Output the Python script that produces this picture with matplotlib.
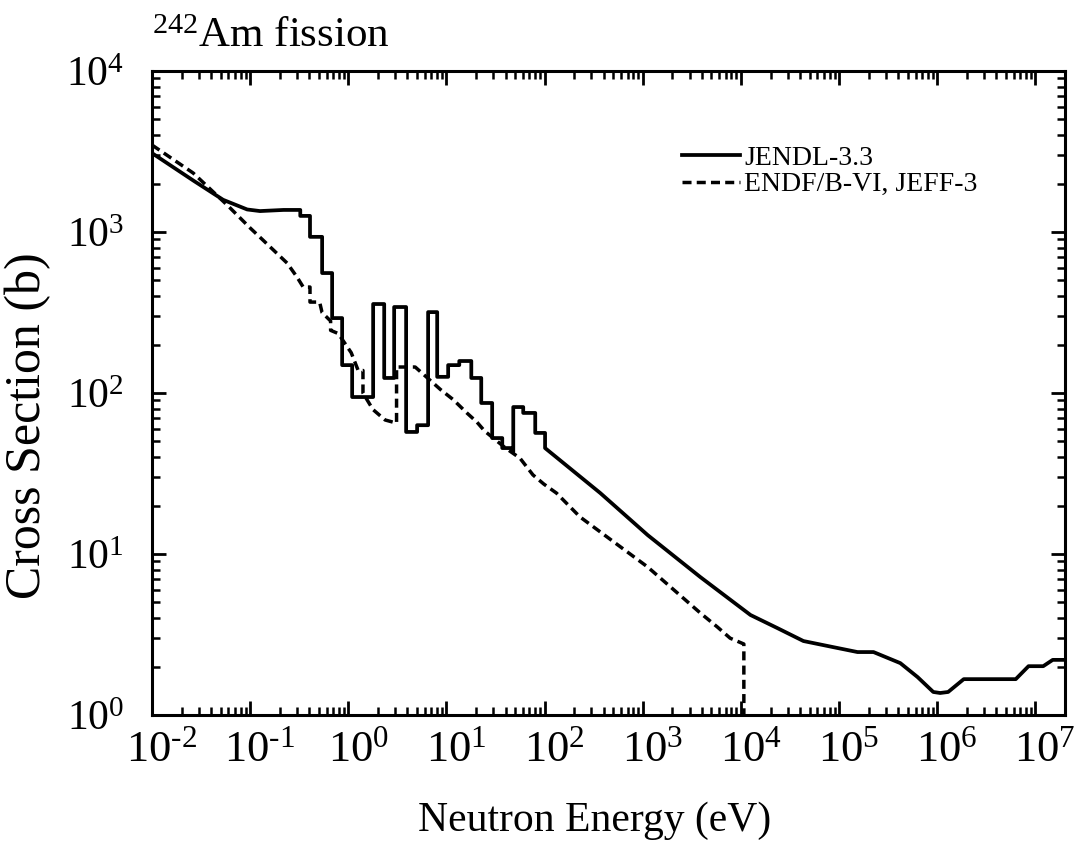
import numpy as np
import matplotlib
matplotlib.use('Agg')
import matplotlib.pyplot as plt
import matplotlib.transforms as mtransforms
from matplotlib.ticker import LogLocator, FuncFormatter, NullFormatter

plt.rcParams['font.family'] = ['Liberation Serif', 'DejaVu Serif']
plt.rcParams['mathtext.fontset'] = 'custom'
plt.rcParams['mathtext.rm'] = 'Liberation Serif'
plt.rcParams['mathtext.it'] = 'Liberation Serif:italic'

# JENDL-3.3: smooth thermal part
jendl_lo_e = [0.01, 0.0263, 0.053, 0.0933, 0.126, 0.219, 0.324]
jendl_lo_xs = [3090, 2089, 1585, 1380, 1349, 1371, 1371]

# JENDL-3.3: resonance region as histogram (edge, level starting at edge)
jendl_step_e = [0.324, 0.407, 0.541, 0.684, 0.865, 1.094, 1.79, 2.32, 2.93, 3.88,
                5.02, 6.50, 8.04, 10.4, 13.5, 17.9, 22.6, 29.2, 37.0, 46.8,
                47.9, 60.5, 80.2, 101]
jendl_step_xs = [1259, 933, 556, 292, 149, 94.4, 357, 124, 342, 57.3,
                 63.1, 318, 126, 149, 158, 124, 86.7, 52.5, 45.5, 43.0,
                 81.8, 75.2, 56.5, 45.5]

# JENDL-3.3: smooth high-energy part
jendl_hi_e = [101, 369, 1122, 3855, 1.25e4, 2.34e4, 4.33e4, 8.7e4, 1.54e5, 2.24e5,
              4.2e5, 6.3e5, 9.1e5, 1.07e6, 1.29e6, 1.86e6, 6.3e6, 8.5e6, 1.2e7,
              1.5e7, 2e7]
jendl_hi_xs = [45.5, 23.9, 13.1, 7.19, 4.18, 3.47, 2.88, 2.64, 2.46, 2.46,
               2.10, 1.72, 1.39, 1.37, 1.39, 1.67, 1.67, 2.01, 2.01,
               2.20, 2.20]

# ENDF/B-VI, JEFF-3
endf_e = [0.01, 0.0263, 0.0582, 0.1, 0.135, 0.238, 0.30, 0.347, 0.407, 0.407,
          0.51, 0.54, 0.66, 0.66, 0.79, 1.07, 1.26, 1.41, 1.41, 1.78,
          2.37, 3.1, 3.1, 4.8, 8.7, 11.7, 16.2, 20.4, 24.5, 40,
          56, 76, 98, 132, 229, 1122, 3855, 5750, 7760, 1.07e4, 1.07e4]
endf_xs = [3470, 2323, 1472, 1059, 891, 641, 525, 455, 455, 367,
           367, 316, 280, 245, 234, 178, 138, 138, 100, 79,
           68, 65, 145, 145, 105, 91, 75, 66, 58, 45.5,
           39.4, 31, 27.2, 23.9, 17, 8.3, 4.3, 3.52, 3.0, 2.76, 0.001]

# build full JENDL curve
step_x = np.repeat(jendl_step_e, 2)
step_y = np.concatenate([[jendl_lo_xs[-1]], np.repeat(jendl_step_xs, 2)[:-1]])
jendl_e = np.concatenate([jendl_lo_e, step_x, jendl_hi_e])
jendl_xs = np.concatenate([jendl_lo_xs, step_y, jendl_hi_xs])

fig = plt.figure(figsize=(10.78, 8.46), dpi=100)
ax = fig.add_axes([152/1078, 1-715/846, (1065-152)/1078, (715-71)/846])

ax.plot(jendl_e, jendl_xs, color='black', lw=2.7, label='JENDL-3.3')
ax.plot(endf_e, endf_xs, color='black', lw=2.5, dashes=(2.6, 1.5),
        label='ENDF/B-VI, JEFF-3')

ax.set_xscale('log')
ax.set_yscale('log')
ax.set_xlim(1e-2, 2e7)
ax.set_ylim(1, 1e4)


def pow_label(v, _):
    p = int(round(np.log10(v)))
    if p < 0:
        return r'$\mathregular{10^{\text{-}%d}}$' % (-p)
    return r'$\mathregular{10^{%d}}$' % p


fmt = FuncFormatter(pow_label)
for axis in (ax.xaxis, ax.yaxis):
    axis.set_major_locator(LogLocator(base=10, numticks=30))
    axis.set_minor_locator(LogLocator(base=10, subs=np.arange(2, 10), numticks=300))
    axis.set_major_formatter(fmt)
    axis.set_minor_formatter(NullFormatter())

ax.tick_params(which='both', direction='in', top=True, right=True)
ax.tick_params(axis='x', labelsize=32)
ax.tick_params(axis='y', labelsize=30)
ax.tick_params(which='major', length=10, width=2.0)
ax.tick_params(which='minor', length=6, width=1.8)
ax.tick_params(axis='x', which='major', pad=11)
ax.tick_params(axis='y', which='major', pad=20)
for s in ax.spines.values():
    s.set_linewidth(2.2)

# shift x tick labels so the "10" sits over the tick
shift = mtransforms.ScaledTranslation(7 / 72, 0, fig.dpi_scale_trans)
for lbl in ax.get_xticklabels():
    lbl.set_transform(lbl.get_transform() + shift)

ax.set_xlabel('Neutron Energy (eV)', fontsize=30)
ax.set_ylabel('Cross Section (b)', fontsize=36)
ax.xaxis.set_label_coords(0.485, -0.135)
ax.yaxis.set_label_coords(-0.11, 0.45)

ax.text(0.0, 1.037, r'$\mathregular{^{242}}$Am fission', transform=ax.transAxes,
        ha='left', va='baseline', fontsize=31)

ax.legend(loc='upper left', bbox_to_anchor=(0.58, 0.885), frameon=False, fontsize=20,
          handlelength=2.1, handletextpad=0.15, labelspacing=0.05, borderpad=0,
          borderaxespad=0)

fig.savefig('out.png', dpi=100)
